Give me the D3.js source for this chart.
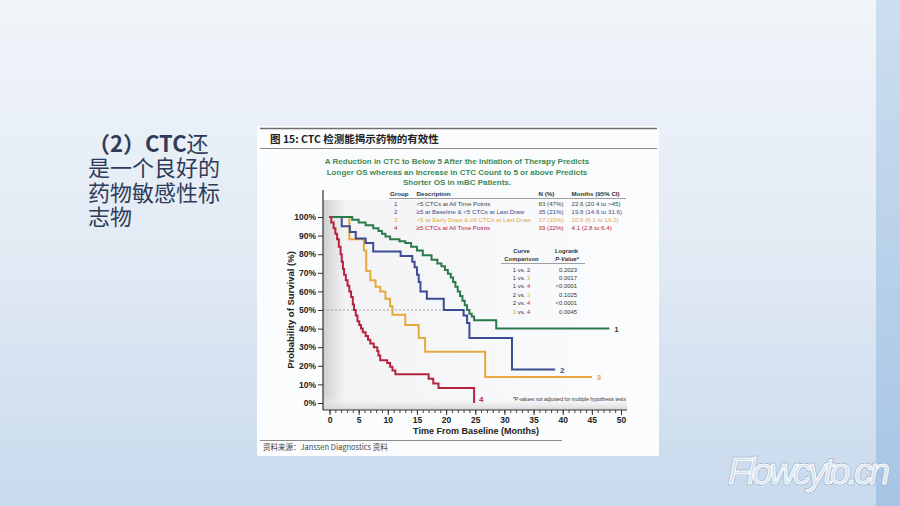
<!DOCTYPE html>
<html><head><meta charset="utf-8">
<script src="https://cdn.jsdelivr.net/npm/d3@7"></script>
<style>
html,body{margin:0;padding:0;overflow:hidden;background:#e8eff7}
svg{display:block}
</style></head>
<body>
<svg id="c" width="900" height="506"></svg>
<script>
// ---------- DATA ----------
const slideHead = "（2）CTC";
const slideLines = ["还", "是一个良好的", "药物敏感性标", "志物"];
const figTitle = "图 15:  CTC 检测能揭示药物的有效性";
const subtitleLines = [
  "A Reduction in CTC to Below 5 After the Initiation of Therapy Predicts",
  "Longer OS whereas an Increase in CTC Count to 5 or above Predicts",
  "Shorter OS in mBC Patients."
];
const groupIds = ["1", "2", "3", "4"];
const groupDesc = ["<5 CTCs at All Time Points", "≥5 at Baseline & <5 CTCs at Last Draw",
  "<5 at Early Draw & ≥5 CTCs at Last Draw", "≥5 CTCs at All Time Points"];
const groupN = ["83 (47%)", "35 (21%)", "17 (10%)", "39 (22%)"];
const groupMonths = ["22.6  (20.4 to >45)", "19.8  (14.6 to 31.6)", "10.6  (6.1 to 19.2)", "4.1  (2.8 to 6.4)"];
const compA = ["1", "1", "1", "2", "2", "3"];
const compB = ["2", "3", "4", "3", "4", "4"];
const compP = ["0.2023", "0.0017", "<0.0001", "0.1025", "<0.0001", "0.0045"];
const footnote = "*P-values not adjusted for multiple hypothesis tests";
const xTicks = [0, 5, 10, 15, 20, 25, 30, 35, 40, 45, 50];
const yTicks = [0, 10, 20, 30, 40, 50, 60, 70, 80, 90, 100];
const xTitle = "Time From Baseline (Months)";
const yTitle = "Probability of Survival (%)";
const sourceText = "资料来源：Janssen Diagnostics 资料";
const watermark = "Flowcyto.cn";

// Kaplan-Meier step data: month at which value changes, survival (%) after it
const g1Time = [0, 3.9, 5, 6.2, 7.5, 8.4, 9, 9.6, 10.4, 12, 13, 14, 15, 16, 17.5, 18.5, 19.2, 19.8, 20.3, 20.8, 21.2, 21.6, 22, 22.4, 22.8, 23.2, 23.6, 24, 24.4, 24.8, 28.6, 48];
const g1Surv = [100, 98.5, 97, 95.5, 94, 92.5, 91, 89.5, 88, 87, 86, 84, 82, 79.5, 77, 75, 73.5, 71.5, 69.5, 67.5, 65, 62.5, 60, 57.5, 55, 52.5, 50, 48, 46.5, 44.5, 40, 40];
const g2Time = [0, 2.1, 3.5, 4.5, 6.2, 7.5, 12.2, 14.2, 14.6, 15, 15.3, 15.6, 16.7, 19.6, 23, 23.6, 24, 31.3, 38.7];
const g2Surv = [100, 95, 92, 88.5, 86, 81.5, 79, 76, 73, 69, 65, 60, 56, 50, 47, 43, 35, 18, 18];
const g3Time = [0, 3.4, 5.9, 6.3, 7, 7.9, 8.7, 9.6, 10.4, 10.8, 13, 15.3, 16.4, 26.7, 45];
const g3Surv = [100, 88, 82, 71, 66, 62.5, 60, 56, 52, 47.5, 42, 35, 27.5, 14, 14];
const g4Time = [0, 0.3, 0.7, 1, 1.3, 1.6, 1.9, 2.1, 2.3, 2.5, 2.8, 3.1, 3.4, 3.7, 4, 4.2, 4.5, 4.8, 5.1, 5.4, 5.7, 6.2, 6.6, 7, 7.6, 8.2, 8.4, 8.7, 9.9, 10.4, 10.8, 11.3, 17, 17.8, 18.7, 24.8];
const g4Surv = [100, 97, 94, 91, 88, 84, 80, 76, 72, 69, 66, 63, 60, 57, 53, 50, 47, 44, 42, 40, 38, 36, 34, 32, 30, 28, 25.5, 23, 21.5, 19.5, 17.5, 15.5, 13, 10.5, 8, 0];
const endLabels = ["1", "2", "3", "4"];

// ---------- STYLE ----------
const colors = ["#2c7a4b", "#3b4c94", "#e6a93c", "#b5233f"];
const legendColors = ["#3c4a40", "#3b4c94", "#e0a84a", "#b5233f"];
const latin = "'Liberation Sans', Arial, sans-serif";
const cjk = "'Noto Sans CJK SC', sans-serif";

const svg = d3.select("#c");
const defs = svg.append("defs");

// background gradient
const bg = defs.append("linearGradient").attr("id", "bg").attr("x1", 0).attr("y1", 0).attr("x2", 0).attr("y2", 1);
bg.append("stop").attr("offset", 0).attr("stop-color", "#f1f5fa");
bg.append("stop").attr("offset", 0.5).attr("stop-color", "#e2eaf4");
bg.append("stop").attr("offset", 1).attr("stop-color", "#c8daed");
svg.append("rect").attr("width", 900).attr("height", 506).attr("fill", "url(#bg)");
const rs = defs.append("linearGradient").attr("id", "rs").attr("x1", 0).attr("y1", 0).attr("x2", 0).attr("y2", 1);
rs.append("stop").attr("offset", 0).attr("stop-color", "#cddeef");
rs.append("stop").attr("offset", 1).attr("stop-color", "#a6c5e5");
svg.append("rect").attr("x", 876).attr("y", 0).attr("width", 24).attr("height", 506).attr("fill", "url(#rs)");

// slide text
const st = svg.append("text").attr("font-family", cjk).attr("font-size", 22).attr("fill", "#2e3c58");
const l0 = st.append("tspan").attr("x", 88).attr("y", 152);
l0.append("tspan").attr("font-weight", "bold").text(slideHead);
l0.append("tspan").text(slideLines[0]);
slideLines.slice(1).forEach((l, i) => st.append("tspan").attr("x", 88).attr("y", 176 + i * 24.5).text(l));

// figure panel
svg.append("rect").attr("x", 257).attr("y", 126).attr("width", 402).attr("height", 330).attr("fill", "#fbfcfd");
svg.append("line").attr("x1", 260).attr("x2", 657).attr("y1", 128.5).attr("y2", 128.5).attr("stroke", "#6e6e6e").attr("stroke-width", 1.5);
svg.append("line").attr("x1", 260).attr("x2", 657).attr("y1", 148.5).attr("y2", 148.5).attr("stroke", "#8a8a8a").attr("stroke-width", 1.2);
svg.append("text").attr("x", 270).attr("y", 142.5).attr("font-family", cjk).attr("font-weight", "bold")
  .attr("font-size", 10.5).attr("fill", "#222").text(figTitle);
svg.append("line").attr("x1", 260).attr("x2", 562).attr("y1", 440.5).attr("y2", 440.5).attr("stroke", "#8a8a8a").attr("stroke-width", 1.2);
svg.append("text").attr("x", 263).attr("y", 450).attr("font-family", cjk).attr("font-size", 7.5).attr("fill", "#444").text(sourceText);

// subtitle
subtitleLines.forEach((l, i) => svg.append("text").attr("x", 457).attr("y", 164 + i * 10.6).attr("text-anchor", "middle")
  .attr("font-family", latin).attr("font-weight", "bold").attr("font-size", 8).attr("fill", "#3d8a58").text(l));

// scales
const x = d3.scaleLinear().domain([0, 50]).range([329.5, 621]);
const y = d3.scaleLinear().domain([0, 100]).range([403, 217]);

// plot shading
const sh = defs.append("linearGradient").attr("id", "sh").attr("x1", 0).attr("y1", 0).attr("x2", 1).attr("y2", 0);
sh.append("stop").attr("offset", 0).attr("stop-color", "#cfcfd2");
sh.append("stop").attr("offset", 0.07).attr("stop-color", "#f3f3f5");
sh.append("stop").attr("offset", 1).attr("stop-color", "#fbfcfd");
svg.append("rect").attr("x", 323).attr("y", 200).attr("width", 304).attr("height", 210).attr("fill", "url(#sh)");
const sb = defs.append("linearGradient").attr("id", "sb").attr("x1", 0).attr("y1", 0).attr("x2", 0).attr("y2", 1);
sb.append("stop").attr("offset", 0).attr("stop-color", "#fbfcfd").attr("stop-opacity", 0);
sb.append("stop").attr("offset", 1).attr("stop-color", "#d4d4d7").attr("stop-opacity", 1);
svg.append("rect").attr("x", 323).attr("y", 396).attr("width", 304).attr("height", 14).attr("fill", "url(#sb)");

// legend table
const lt = svg.append("g").attr("font-family", latin).attr("font-size", 6.2);
const cols = [390, 416.5, 538.5, 571.5];
["Group", "Description", "N (%)", "Months (95% CI)"].forEach((h, i) =>
  lt.append("text").attr("x", cols[i]).attr("y", 195.5).attr("font-weight", "bold").attr("fill", "#333").text(h));
lt.append("line").attr("x1", 389).attr("x2", 626).attr("y1", 198.5).attr("y2", 198.5).attr("stroke", "#777").attr("stroke-width", 0.7);
groupIds.forEach((g, i) => {
  const yy = 206.2 + i * 7.9;
  const c = legendColors[i];
  lt.append("text").attr("x", 394).attr("y", yy).attr("fill", c).text(g);
  lt.append("text").attr("x", cols[1]).attr("y", yy).attr("fill", c).text(groupDesc[i]);
  lt.append("text").attr("x", cols[2]).attr("y", yy).attr("fill", c).text(groupN[i]);
  lt.append("text").attr("x", cols[3]).attr("y", yy).attr("fill", c).text(groupMonths[i]);
});

// comparison table
const ct = svg.append("g").attr("font-family", latin).attr("font-size", 5.9).attr("fill", "#333");
ct.append("text").attr("x", 521.5).attr("y", 252.5).attr("text-anchor", "middle").attr("font-weight", "bold").text("Curve");
ct.append("text").attr("x", 521.5).attr("y", 261).attr("text-anchor", "middle").attr("font-weight", "bold").text("Comparison");
ct.append("text").attr("x", 566.5).attr("y", 252.5).attr("text-anchor", "middle").attr("font-weight", "bold").text("Logrank");
ct.append("text").attr("x", 567).attr("y", 261).attr("text-anchor", "middle").attr("font-weight", "bold").attr("font-style", "italic").text("P-Value*");
ct.append("line").attr("x1", 501).attr("x2", 585).attr("y1", 263.5).attr("y2", 263.5).attr("stroke", "#777").attr("stroke-width", 0.7);
const idxColor = g => ({ "3": "#e6a93c", "4": "#b5233f" }[g] || "#333");
compA.forEach((a, i) => {
  const yy = 271.5 + i * 8.4;
  const t = ct.append("text").attr("x", 521.5).attr("y", yy).attr("text-anchor", "middle");
  t.append("tspan").attr("fill", idxColor(a)).text(a);
  t.append("tspan").attr("fill", "#333").text(" vs. ");
  t.append("tspan").attr("fill", idxColor(compB[i])).text(compB[i]);
  ct.append("text").attr("x", 577).attr("y", yy).attr("text-anchor", "end").text(compP[i]);
});

// 50% reference line
svg.append("line").attr("x1", 323).attr("x2", x(24)).attr("y1", y(50)).attr("y2", y(50))
  .attr("stroke", "#999").attr("stroke-width", 0.9).attr("stroke-dasharray", "2,2");

// curves
const line = d3.line().x(d => x(d[0])).y(d => y(d[1])).curve(d3.curveStepAfter);
const series = [[g1Time, g1Surv], [g2Time, g2Surv], [g3Time, g3Surv], [g4Time, g4Surv]];
const drawOrder = [2, 1, 0, 3];
drawOrder.forEach(i => {
  const pts = series[i][0].map((t, j) => [t, series[i][1][j]]);
  svg.append("path").attr("d", line(pts)).attr("fill", "none").attr("stroke", colors[i])
    .attr("stroke-width", 2).attr("stroke-linejoin", "miter");
});
// end labels
const labelColors = ["#2d4a36", "#3b4c94", "#e6a93c", "#b5233f"];
series.forEach((s, i) => {
  const tEnd = s[0][s[0].length - 1];
  const vEnd = Math.max(s[1][s[1].length - 1], 2.5);
  svg.append("text").attr("x", x(tEnd) + 5).attr("y", y(vEnd) + 3.5)
    .attr("font-family", latin).attr("font-weight", "bold").attr("font-size", 8).attr("fill", labelColors[i]).text(endLabels[i]);
});

// footnote
svg.append("text").attr("x", 626).attr("y", 401).attr("text-anchor", "end").attr("font-family", latin)
  .attr("font-size", 5).attr("fill", "#333").text(footnote);

// axes
const yAxis = svg.append("g").attr("transform", "translate(323,0)")
  .call(d3.axisLeft(y).tickValues(yTicks).tickFormat(d => d + "%").tickSize(5).tickPadding(2));
yAxis.select(".domain").attr("d", "M0,190V410").attr("stroke", "#333").attr("stroke-width", 1.2);
yAxis.selectAll(".tick line").attr("stroke", "#333").attr("stroke-width", 1);
yAxis.selectAll("text").attr("font-family", latin).attr("font-weight", "bold").attr("font-size", 8.5).attr("fill", "#222");

const xMinor = svg.append("g").attr("transform", "translate(0,410)")
  .call(d3.axisBottom(x).tickValues(d3.range(0, 51)).tickFormat("").tickSize(3));
xMinor.select(".domain").remove();
xMinor.selectAll(".tick line").attr("stroke", "#333").attr("stroke-width", 0.9);
const xAxis = svg.append("g").attr("transform", "translate(0,410)")
  .call(d3.axisBottom(x).tickValues(xTicks).tickSize(5).tickPadding(2));
xAxis.select(".domain").attr("d", "M323,0H627").attr("stroke", "#333").attr("stroke-width", 1.2);
xAxis.selectAll(".tick line").attr("stroke", "#333").attr("stroke-width", 1);
xAxis.selectAll("text").attr("font-family", latin).attr("font-weight", "bold").attr("font-size", 8.5).attr("fill", "#222");

svg.append("text").attr("x", 476).attr("y", 433.5).attr("text-anchor", "middle").attr("font-family", latin)
  .attr("font-weight", "bold").attr("font-size", 9).attr("fill", "#222").text(xTitle);
svg.append("text").attr("transform", "translate(294,310) rotate(-90)").attr("text-anchor", "middle").attr("font-family", latin)
  .attr("font-weight", "bold").attr("font-size", 9.5).attr("fill", "#222").text(yTitle);

// watermark (outlined)
const wm = svg.append("g").attr("font-family", latin).attr("font-style", "italic").attr("font-size", 37);
wm.append("text").attr("x", 728).attr("y", 484).attr("textLength", 162).text(watermark)
  .attr("fill", "none").attr("stroke", "#98aec6").attr("stroke-width", 2.4);
wm.append("text").attr("x", 728).attr("y", 484).attr("textLength", 162).text(watermark)
  .attr("fill", "#d3e0ed").attr("stroke", "#fbfcfe").attr("stroke-width", 1.1);
</script>
</body></html>
